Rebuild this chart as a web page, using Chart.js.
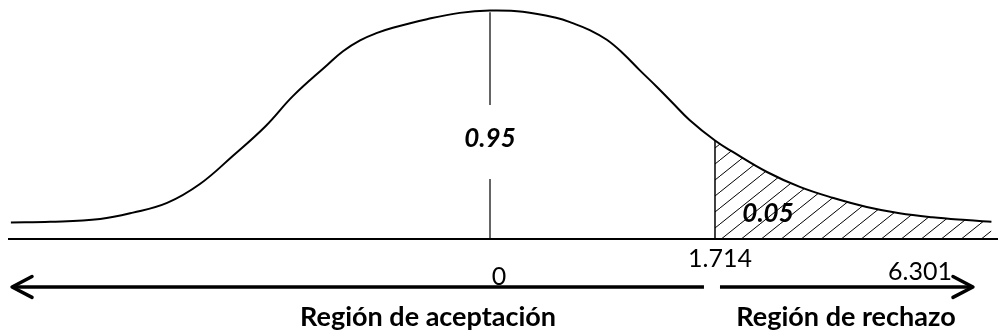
<!DOCTYPE html>
<html>
<head>
<meta charset="utf-8">
<script src="https://cdn.jsdelivr.net/npm/chart.js@4/dist/chart.umd.min.js"></script>
<style>
  html, body { margin: 0; padding: 0; background: #fff; }
  #wrap { width: 998px; height: 334px; }
</style>
</head>
<body>
<div id="wrap"><canvas id="tChart" width="998" height="334"></canvas></div>
<script>
// t values and curve heights
const tValues = [-3.65, -3.35, -2.97, -2.72, -2.46, -2.21, -1.96, -1.71, -1.50, -1.24, -1.12, -0.99, -0.86, -0.74, -0.48, -0.23, 0,
                 0.25, 0.51, 0.63, 0.76, 0.89, 1.01, 1.14, 1.27, 1.39, 1.52, 1.714, 1.85, 2.11, 2.36, 2.61, 2.87, 3.12, 3.37, 3.63, 3.82];
const density = [0.029, 0.030, 0.035, 0.046, 0.063, 0.096, 0.145, 0.197, 0.250, 0.304, 0.328, 0.347, 0.360, 0.369, 0.384, 0.395, 0.399,
                 0.397, 0.386, 0.377, 0.365, 0.348, 0.325, 0.295, 0.266, 0.238, 0.208, 0.172, 0.152, 0.117, 0.091, 0.072, 0.056, 0.045, 0.038, 0.033, 0.030];
const criticalT = 1.714;
const areaLabels = ['0.95', '0.05'];
const tickLabels = ['0', '1.714', '6.301'];
const regionLabels = ['Región de aceptación', 'Región de rechazo'];

const curve = tValues.map((t, i) => ({ x: t, y: density[i] }));
const tail = curve.filter(p => p.x >= criticalT);
const critHeight = density[tValues.indexOf(criticalT)];
const peak = Math.max(...density);

// layout of the sketch, in axis units
const xMin = -3.672, xMax = 3.870, yMin = -0.166, yMax = 0.4175;
const arrowY = -0.0838, headDx = 0.152, headDy = 0.0183;
const leftArrow = [-3.641, 1.630];
const rightArrow = [1.752, 3.679];
const FONT = 'Lato, Carlito, Calibri, sans-serif';

function hatch() {
    const w = 20, h = 16;
    const c = document.createElement('canvas');
    c.width = w; c.height = h;
    const g = c.getContext('2d');
    g.strokeStyle = '#000';
    g.lineWidth = 1;
    for (let k = -1; k <= 1; k++) {
        g.beginPath();
        g.moveTo(k * w, h);
        g.lineTo((k + 1) * w, 0);
        g.stroke();
    }
    return g.createPattern(c, 'repeat');
}

function seg(points, width, cap) {
    return {
        data: points,
        borderColor: '#000',
        borderWidth: width,
        borderCapStyle: cap || 'butt',
        pointRadius: 0,
        fill: false,
        tension: 0,
        spanGaps: false
    };
}

const texts = [
    { text: areaLabels[0], x: 0, y: 0.1607, font: 'italic bold 26px ' + FONT },
    { text: areaLabels[1], x: 2.118, y: 0.0297, font: 'italic bold 26px ' + FONT },
    { text: tickLabels[0], x: 0.069, y: -0.0803, font: '25px ' + FONT },
    { text: tickLabels[1], x: 1.752, y: -0.0489, font: '25px ' + FONT },
    { text: tickLabels[2], x: 3.276, y: -0.0716, font: '25px ' + FONT },
    { text: regionLabels[0], x: -0.472, y: -0.152, font: 'bold 27px ' + FONT },
    { text: regionLabels[1], x: 2.712, y: -0.152, font: 'bold 27px ' + FONT }
];

const textPlugin = {
    id: 'sketchText',
    afterDatasetsDraw(chart) {
        const ctx = chart.ctx;
        const xs = chart.scales.x, ys = chart.scales.y;
        ctx.save();
        ctx.fillStyle = '#000';
        ctx.textAlign = 'center';
        ctx.textBaseline = 'alphabetic';
        texts.forEach(t => {
            ctx.font = t.font;
            ctx.fillText(t.text, xs.getPixelForValue(t.x), ys.getPixelForValue(t.y));
        });
        ctx.restore();
    }
};

const datasets = [
    // hatched rejection area
    {
        data: tail,
        borderWidth: 0,
        borderColor: 'rgba(0,0,0,0)',
        backgroundColor: hatch(),
        fill: 'origin',
        pointRadius: 0,
        tension: 0.4
    },
    // density curve
    {
        data: curve,
        borderColor: '#000',
        borderWidth: 2,
        pointRadius: 0,
        fill: false,
        tension: 0.4
    },
    seg([{ x: xMin, y: 0 }, { x: xMax, y: 0 }], 2),
    seg([{ x: 0, y: 0 }, { x: 0, y: 0.105 }, { x: 0, y: null }, { x: 0, y: 0.234 }, { x: 0, y: peak - 0.003 }], 1.2),
    seg([{ x: criticalT, y: 0 }, { x: criticalT, y: critHeight }], 1.5),
    seg([{ x: leftArrow[0], y: arrowY }, { x: leftArrow[1], y: arrowY }], 3.5),
    seg([{ x: rightArrow[0], y: arrowY }, { x: rightArrow[1], y: arrowY }], 3.5),
    seg([{ x: leftArrow[0] + headDx, y: arrowY + headDy }, { x: leftArrow[0], y: arrowY }, { x: leftArrow[0] + headDx, y: arrowY - headDy }], 3.5, 'round'),
    seg([{ x: rightArrow[1] - headDx, y: arrowY + headDy }, { x: rightArrow[1], y: arrowY }, { x: rightArrow[1] - headDx, y: arrowY - headDy }], 3.5, 'round')
];

new Chart(document.getElementById('tChart').getContext('2d'), {
    type: 'line',
    data: { datasets: datasets },
    options: {
        responsive: false,
        animation: false,
        layout: { padding: { left: 8, right: 0, top: 0, bottom: 0 }, autoPadding: false },
        plugins: { legend: { display: false }, tooltip: { enabled: false }, title: { display: false } },
        elements: { line: { borderJoinStyle: 'round' } },
        scales: {
            x: { type: 'linear', min: xMin, max: xMax, display: false },
            y: { type: 'linear', min: yMin, max: yMax, display: false }
        }
    },
    plugins: [textPlugin]
});
</script>
</body>
</html>
